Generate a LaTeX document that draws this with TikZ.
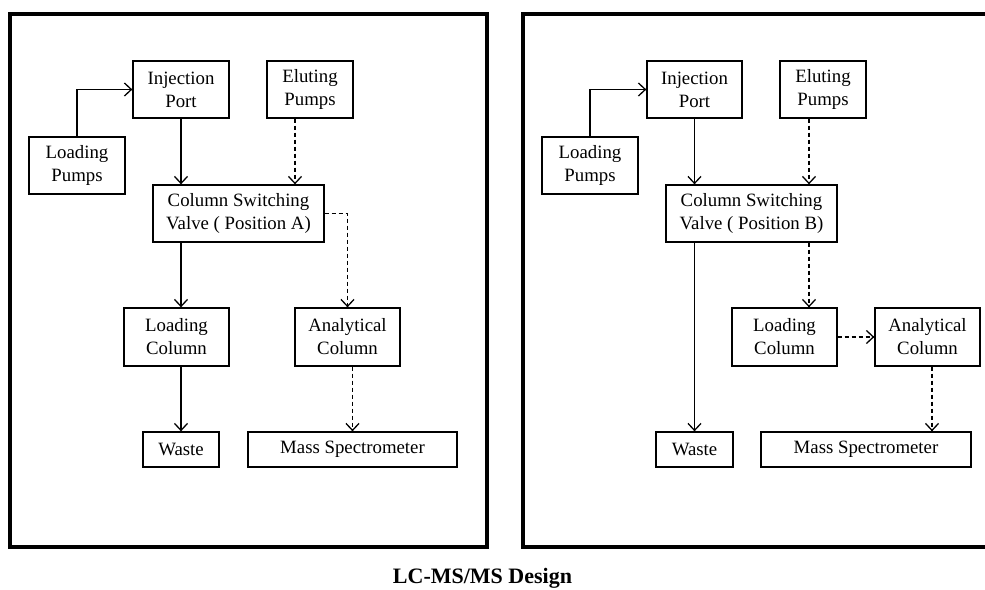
\documentclass[tikz,border=0pt]{standalone}
\usepackage{fontspec}
\setmainfont{Liberation Serif}
\usetikzlibrary{arrows.meta}

\begin{document}
\begin{tikzpicture}[x=1pt,y=-1pt,every node/.style={font=\fontsize{18.8}{23}\selectfont,align=center},box/.style={draw,line width=1.3pt,minimum height=57pt,inner sep=0pt},flat/.style={box,minimum height=35pt},frame/.style={line width=3.5pt},arrow/.style={-{Straight Barb[length=7pt,width=13pt]},line width=1.3pt},flow/.style={arrow,dash pattern=on 4pt off 3pt}]
\clip (0,0) rectangle (985,589);
\draw[frame] (10,14) rectangle (487,547);
\draw[frame] (523,14) rectangle (1000,547);
\node[box,minimum width=96pt] (injA) at (181,89.5) {Injection\\Port};
\node[box,minimum width=86pt] (eluA) at (310,89.5) {Eluting\\Pumps};
\node[box,minimum width=96pt] (lpA) at (77,165.5) {Loading\\Pumps};
\node[box,minimum width=171pt] (csvA) at (238.5,213.5) {Column Switching\\Valve ( Position A)};
\node[box,minimum width=105pt,minimum height=58pt] (lcolA) at (176.5,337) {Loading\\Column};
\node[box,minimum width=105pt,minimum height=58pt] (acolA) at (347.5,337) {Analytical\\Column};
\node[flat,minimum width=76pt] (wasteA) at (181,449.5) {Waste};
\node[flat,minimum width=209pt] (msA) at (352.5,449.5) {Mass Spectrometer};
\draw[arrow] (lpA.north) |- (injA.west); \draw[arrow] (injA.south) -- (injA.south |- csvA.north);
\draw[flow] ([xshift=-15pt]eluA.south) -- ([xshift=-15pt]eluA.south |- csvA.north);
\draw[flow] (csvA.east) -| (acolA.north);
\draw[arrow] (csvA.south -| injA.south) -- (lcolA.north -| injA.south);
\draw[arrow] (wasteA.north |- lcolA.south) -- (wasteA.north);
\draw[flow] ([xshift=5pt]acolA.south) -- ([xshift=5pt]acolA.south |- msA.north);
\node[box,minimum width=95pt] (injB) at (694.5,89.5) {Injection\\Port};
\node[box,minimum width=86pt] (eluB) at (823,89.5) {Eluting\\Pumps};
\node[box,minimum width=96pt] (lpB) at (590,165.5) {Loading\\Pumps};
\node[box,minimum width=171pt] (csvB) at (751.5,213.5) {Column Switching\\Valve ( Position B)};
\node[box,minimum width=105pt,minimum height=58pt] (lcolB) at (784.5,337) {Loading\\Column};
\node[box,minimum width=105pt,minimum height=58pt] (acolB) at (927.5,337) {Analytical\\Column};
\node[flat,minimum width=77pt] (wasteB) at (694.5,449.5) {Waste};
\node[flat,minimum width=210pt] (msB) at (866,449.5) {Mass Spectrometer};
\draw[arrow] (lpB.north) |- (injB.west); \draw[arrow] (injB.south) -- (injB.south |- csvB.north);
\draw[flow] ([xshift=-14pt]eluB.south) -- ([xshift=-14pt]eluB.south |- csvB.north);
\draw[arrow] (csvB.south -| wasteB.north) -- (wasteB.north);
\draw[flow] ([xshift=-14pt]eluB.south |- csvB.south) -- ([xshift=-14pt]eluB.south |- lcolB.north);
\draw[flow] (lcolB.east) -- (acolB.west);
\draw[flow] ([xshift=4.5pt]acolB.south) -- ([xshift=4.5pt]acolB.south |- msB.north);
\node[font=\fontsize{22}{26}\selectfont\bfseries,anchor=base] (title) at (482.5,583) {LC-MS/MS Design};
\end{tikzpicture}
\end{document}
